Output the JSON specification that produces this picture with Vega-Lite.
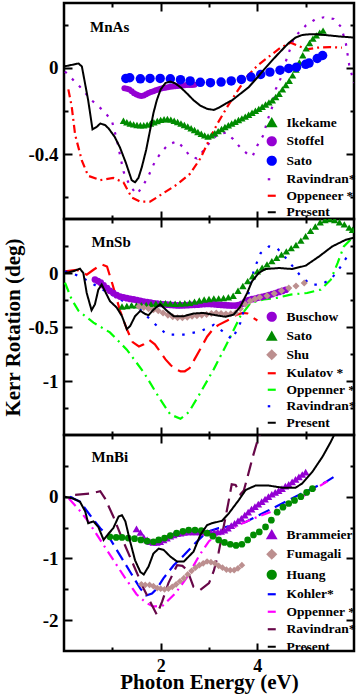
{
"$schema":"https://vega.github.io/schema/vega-lite/v6.json",
"autosize":{"type":"pad"},
"padding":{"left":0,"top":0,"right":2,"bottom":0},
"spacing":0,
"bounds":"flush",
"datasets":{
"MnAs":[
{"s":"Ikekame","x":1.23,"y":-0.245},{"s":"Ikekame","x":1.30,"y":-0.252},{"s":"Ikekame","x":1.37,"y":-0.258},{"s":"Ikekame","x":1.44,"y":-0.262},{"s":"Ikekame","x":1.51,"y":-0.265},{"s":"Ikekame","x":1.58,"y":-0.266},{"s":"Ikekame","x":1.65,"y":-0.266},{"s":"Ikekame","x":1.72,"y":-0.263},{"s":"Ikekame","x":1.79,"y":-0.258},{"s":"Ikekame","x":1.86,"y":-0.252},{"s":"Ikekame","x":1.93,"y":-0.246},{"s":"Ikekame","x":2.00,"y":-0.241},{"s":"Ikekame","x":2.07,"y":-0.238},{"s":"Ikekame","x":2.14,"y":-0.237},{"s":"Ikekame","x":2.21,"y":-0.24},{"s":"Ikekame","x":2.28,"y":-0.245},{"s":"Ikekame","x":2.35,"y":-0.251},{"s":"Ikekame","x":2.42,"y":-0.258},{"s":"Ikekame","x":2.49,"y":-0.265},{"s":"Ikekame","x":2.56,"y":-0.272},{"s":"Ikekame","x":2.63,"y":-0.28},{"s":"Ikekame","x":2.70,"y":-0.288},{"s":"Ikekame","x":2.77,"y":-0.297},{"s":"Ikekame","x":2.84,"y":-0.305},{"s":"Ikekame","x":2.91,"y":-0.313},{"s":"Ikekame","x":2.98,"y":-0.318},{"s":"Ikekame","x":3.05,"y":-0.313},{"s":"Ikekame","x":3.12,"y":-0.303},{"s":"Ikekame","x":3.19,"y":-0.293},{"s":"Ikekame","x":3.26,"y":-0.283},{"s":"Ikekame","x":3.33,"y":-0.274},{"s":"Ikekame","x":3.40,"y":-0.266},{"s":"Ikekame","x":3.47,"y":-0.258},{"s":"Ikekame","x":3.54,"y":-0.25},{"s":"Ikekame","x":3.61,"y":-0.242},{"s":"Ikekame","x":3.68,"y":-0.234},{"s":"Ikekame","x":3.75,"y":-0.226},{"s":"Ikekame","x":3.82,"y":-0.217},{"s":"Ikekame","x":3.89,"y":-0.208},{"s":"Ikekame","x":3.96,"y":-0.199},{"s":"Ikekame","x":4.03,"y":-0.19},{"s":"Ikekame","x":4.10,"y":-0.18},{"s":"Ikekame","x":4.17,"y":-0.17},{"s":"Ikekame","x":4.24,"y":-0.16},{"s":"Ikekame","x":4.31,"y":-0.15},{"s":"Ikekame","x":4.38,"y":-0.135},{"s":"Ikekame","x":4.45,"y":-0.12},{"s":"Ikekame","x":4.52,"y":-0.1},{"s":"Ikekame","x":4.59,"y":-0.08},{"s":"Ikekame","x":4.66,"y":-0.06},{"s":"Ikekame","x":4.73,"y":-0.035},{"s":"Ikekame","x":4.80,"y":-0.008},{"s":"Ikekame","x":4.87,"y":0.025},{"s":"Ikekame","x":4.94,"y":0.058},{"s":"Ikekame","x":5.01,"y":0.09},{"s":"Ikekame","x":5.08,"y":0.115},{"s":"Ikekame","x":5.15,"y":0.135},{"s":"Ikekame","x":5.22,"y":0.15},{"s":"Ikekame","x":5.29,"y":0.163},{"s":"Ikekame","x":5.36,"y":0.172},
{"s":"Stoffel","x":1.25,"y":-0.095},{"s":"Stoffel","x":1.30,"y":-0.097},{"s":"Stoffel","x":1.35,"y":-0.1},{"s":"Stoffel","x":1.40,"y":-0.108},{"s":"Stoffel","x":1.45,"y":-0.118},{"s":"Stoffel","x":1.50,"y":-0.124},{"s":"Stoffel","x":1.55,"y":-0.128},{"s":"Stoffel","x":1.60,"y":-0.13},{"s":"Stoffel","x":1.65,"y":-0.128},{"s":"Stoffel","x":1.70,"y":-0.123},{"s":"Stoffel","x":1.75,"y":-0.117},{"s":"Stoffel","x":1.80,"y":-0.112},{"s":"Stoffel","x":1.85,"y":-0.108},{"s":"Stoffel","x":1.90,"y":-0.104},{"s":"Stoffel","x":1.95,"y":-0.1},{"s":"Stoffel","x":2.00,"y":-0.097},{"s":"Stoffel","x":2.05,"y":-0.094},{"s":"Stoffel","x":2.10,"y":-0.092},{"s":"Stoffel","x":2.15,"y":-0.09},{"s":"Stoffel","x":2.20,"y":-0.088},{"s":"Stoffel","x":2.25,"y":-0.087},{"s":"Stoffel","x":2.30,"y":-0.085},{"s":"Stoffel","x":2.35,"y":-0.084},{"s":"Stoffel","x":2.40,"y":-0.083},{"s":"Stoffel","x":2.45,"y":-0.082},{"s":"Stoffel","x":2.50,"y":-0.081},{"s":"Stoffel","x":2.55,"y":-0.08},{"s":"Stoffel","x":2.60,"y":-0.08},{"s":"Stoffel","x":2.65,"y":-0.08},{"s":"Stoffel","x":2.70,"y":-0.079},
{"s":"Sato","x":1.28,"y":-0.049},{"s":"Sato","x":1.36,"y":-0.046},{"s":"Sato","x":1.58,"y":-0.051},{"s":"Sato","x":1.78,"y":-0.049},{"s":"Sato","x":1.99,"y":-0.049},{"s":"Sato","x":2.2,"y":-0.051},{"s":"Sato","x":2.41,"y":-0.055},{"s":"Sato","x":2.61,"y":-0.061},{"s":"Sato","x":2.82,"y":-0.067},{"s":"Sato","x":3.03,"y":-0.069},{"s":"Sato","x":3.25,"y":-0.066},{"s":"Sato","x":3.46,"y":-0.061},{"s":"Sato","x":3.67,"y":-0.054},{"s":"Sato","x":3.87,"y":-0.043},{"s":"Sato","x":4.07,"y":-0.031},{"s":"Sato","x":4.26,"y":-0.02},{"s":"Sato","x":4.47,"y":-0.011},{"s":"Sato","x":4.65,"y":-0.003},{"s":"Sato","x":4.81,"y":0.003},{"s":"Sato","x":5.0,"y":0.016},{"s":"Sato","x":5.07,"y":0.022},{"s":"Sato","x":5.24,"y":0.043},{"s":"Sato","x":5.35,"y":0.057},
{"s":"Ravindran*","x":0.02,"y":-0.017},{"s":"Ravindran*","x":0.33,"y":-0.088},{"s":"Ravindran*","x":0.57,"y":-0.15},{"s":"Ravindran*","x":0.82,"y":-0.2},{"s":"Ravindran*","x":0.99,"y":-0.245},{"s":"Ravindran*","x":1.09,"y":-0.33},{"s":"Ravindran*","x":1.23,"y":-0.48},{"s":"Ravindran*","x":1.37,"y":-0.55},{"s":"Ravindran*","x":1.51,"y":-0.585},{"s":"Ravindran*","x":1.65,"y":-0.54},{"s":"Ravindran*","x":1.75,"y":-0.5},{"s":"Ravindran*","x":1.89,"y":-0.43},{"s":"Ravindran*","x":2.03,"y":-0.386},{"s":"Ravindran*","x":2.16,"y":-0.355},{"s":"Ravindran*","x":2.34,"y":-0.34},{"s":"Ravindran*","x":2.47,"y":-0.37},{"s":"Ravindran*","x":2.61,"y":-0.41},{"s":"Ravindran*","x":2.75,"y":-0.42},{"s":"Ravindran*","x":2.9,"y":-0.38},{"s":"Ravindran*","x":3.03,"y":-0.34},{"s":"Ravindran*","x":3.17,"y":-0.31},{"s":"Ravindran*","x":3.35,"y":-0.3},{"s":"Ravindran*","x":3.5,"y":-0.33},{"s":"Ravindran*","x":3.65,"y":-0.37},{"s":"Ravindran*","x":3.8,"y":-0.4},{"s":"Ravindran*","x":3.9,"y":-0.41},{"s":"Ravindran*","x":4.0,"y":-0.36},{"s":"Ravindran*","x":4.13,"y":-0.31},{"s":"Ravindran*","x":4.2,"y":-0.25},{"s":"Ravindran*","x":4.31,"y":-0.18},{"s":"Ravindran*","x":4.38,"y":-0.1},{"s":"Ravindran*","x":4.48,"y":-0.05},{"s":"Ravindran*","x":4.59,"y":0.03},{"s":"Ravindran*","x":4.76,"y":0.14},{"s":"Ravindran*","x":5.0,"y":0.195},{"s":"Ravindran*","x":5.21,"y":0.226},{"s":"Ravindran*","x":5.38,"y":0.234},{"s":"Ravindran*","x":5.58,"y":0.226},{"s":"Ravindran*","x":5.73,"y":0.19},{"s":"Ravindran*","x":5.83,"y":0.116},{"s":"Ravindran*","x":5.9,"y":0.014},{"s":"Ravindran*","x":6.0,"y":-0.07},
{"s":"Oppeneer *","x":0.09,"y":-0.1},{"s":"Oppeneer *","x":0.16,"y":-0.18},{"s":"Oppeneer *","x":0.23,"y":-0.31},{"s":"Oppeneer *","x":0.37,"y":-0.43},{"s":"Oppeneer *","x":0.5,"y":-0.5},{"s":"Oppeneer *","x":0.75,"y":-0.52},{"s":"Oppeneer *","x":1.02,"y":-0.51},{"s":"Oppeneer *","x":1.23,"y":-0.53},{"s":"Oppeneer *","x":1.4,"y":-0.6},{"s":"Oppeneer *","x":1.58,"y":-0.62},{"s":"Oppeneer *","x":1.78,"y":-0.62},{"s":"Oppeneer *","x":2.06,"y":-0.58},{"s":"Oppeneer *","x":2.34,"y":-0.54},{"s":"Oppeneer *","x":2.61,"y":-0.49},{"s":"Oppeneer *","x":2.82,"y":-0.42},{"s":"Oppeneer *","x":2.99,"y":-0.34},{"s":"Oppeneer *","x":3.17,"y":-0.26},{"s":"Oppeneer *","x":3.38,"y":-0.18},{"s":"Oppeneer *","x":3.58,"y":-0.11},{"s":"Oppeneer *","x":3.79,"y":-0.04},{"s":"Oppeneer *","x":4.0,"y":0.01},{"s":"Oppeneer *","x":4.2,"y":0.045},{"s":"Oppeneer *","x":4.48,"y":0.093},{"s":"Oppeneer *","x":4.69,"y":0.116},{"s":"Oppeneer *","x":4.86,"y":0.1},{"s":"Oppeneer *","x":5.03,"y":0.085},{"s":"Oppeneer *","x":5.24,"y":0.093},{"s":"Oppeneer *","x":5.5,"y":0.096},{"s":"Oppeneer *","x":5.75,"y":0.093},
{"s":"Present","x":0.0,"y":0.006},{"s":"Present","x":0.3,"y":0.02},{"s":"Present","x":0.37,"y":0.006},{"s":"Present","x":0.5,"y":-0.15},{"s":"Present","x":0.59,"y":-0.285},{"s":"Present","x":0.67,"y":-0.275},{"s":"Present","x":0.75,"y":-0.258},{"s":"Present","x":0.85,"y":-0.265},{"s":"Present","x":0.92,"y":-0.28},{"s":"Present","x":1.05,"y":-0.32},{"s":"Present","x":1.16,"y":-0.37},{"s":"Present","x":1.28,"y":-0.44},{"s":"Present","x":1.4,"y":-0.52},{"s":"Present","x":1.47,"y":-0.53},{"s":"Present","x":1.54,"y":-0.51},{"s":"Present","x":1.61,"y":-0.46},{"s":"Present","x":1.7,"y":-0.38},{"s":"Present","x":1.78,"y":-0.29},{"s":"Present","x":1.85,"y":-0.21},{"s":"Present","x":1.92,"y":-0.15},{"s":"Present","x":2.0,"y":-0.1},{"s":"Present","x":2.1,"y":-0.07},{"s":"Present","x":2.2,"y":-0.064},{"s":"Present","x":2.3,"y":-0.072},{"s":"Present","x":2.41,"y":-0.09},{"s":"Present","x":2.55,"y":-0.12},{"s":"Present","x":2.68,"y":-0.15},{"s":"Present","x":2.82,"y":-0.175},{"s":"Present","x":2.96,"y":-0.19},{"s":"Present","x":3.1,"y":-0.195},{"s":"Present","x":3.2,"y":-0.185},{"s":"Present","x":3.35,"y":-0.165},{"s":"Present","x":3.48,"y":-0.15},{"s":"Present","x":3.65,"y":-0.12},{"s":"Present","x":3.82,"y":-0.09},{"s":"Present","x":4.0,"y":-0.045},{"s":"Present","x":4.17,"y":0.0},{"s":"Present","x":4.35,"y":0.045},{"s":"Present","x":4.52,"y":0.085},{"s":"Present","x":4.65,"y":0.115},{"s":"Present","x":4.79,"y":0.14},{"s":"Present","x":4.93,"y":0.152},{"s":"Present","x":5.07,"y":0.155},{"s":"Present","x":5.25,"y":0.155},{"s":"Present","x":5.48,"y":0.15},{"s":"Present","x":5.7,"y":0.145},{"s":"Present","x":6.0,"y":0.14}
],
"MnSb":[
{"s":"Buschow","x":0.64,"y":-0.06},{"s":"Buschow","x":0.70,"y":-0.075},{"s":"Buschow","x":0.76,"y":-0.09},{"s":"Buschow","x":0.82,"y":-0.115},{"s":"Buschow","x":0.89,"y":-0.14},{"s":"Buschow","x":0.95,"y":-0.165},{"s":"Buschow","x":1.02,"y":-0.185},{"s":"Buschow","x":1.09,"y":-0.205},{"s":"Buschow","x":1.16,"y":-0.218},{"s":"Buschow","x":1.23,"y":-0.225},{"s":"Buschow","x":1.30,"y":-0.233},{"s":"Buschow","x":1.37,"y":-0.24},{"s":"Buschow","x":1.44,"y":-0.245},{"s":"Buschow","x":1.51,"y":-0.252},{"s":"Buschow","x":1.58,"y":-0.258},{"s":"Buschow","x":1.65,"y":-0.264},{"s":"Buschow","x":1.72,"y":-0.27},{"s":"Buschow","x":1.79,"y":-0.275},{"s":"Buschow","x":1.86,"y":-0.28},{"s":"Buschow","x":1.93,"y":-0.284},{"s":"Buschow","x":2.00,"y":-0.287},{"s":"Buschow","x":2.07,"y":-0.29},{"s":"Buschow","x":2.14,"y":-0.293},{"s":"Buschow","x":2.21,"y":-0.296},{"s":"Buschow","x":2.28,"y":-0.298},{"s":"Buschow","x":2.35,"y":-0.3},{"s":"Buschow","x":2.42,"y":-0.3},{"s":"Buschow","x":2.49,"y":-0.299},{"s":"Buschow","x":2.56,"y":-0.298},{"s":"Buschow","x":2.63,"y":-0.296},{"s":"Buschow","x":2.70,"y":-0.295},{"s":"Buschow","x":2.77,"y":-0.293},{"s":"Buschow","x":2.84,"y":-0.29},{"s":"Buschow","x":2.91,"y":-0.288},{"s":"Buschow","x":2.98,"y":-0.287},{"s":"Buschow","x":3.05,"y":-0.288},{"s":"Buschow","x":3.12,"y":-0.29},{"s":"Buschow","x":3.19,"y":-0.293},{"s":"Buschow","x":3.26,"y":-0.296},{"s":"Buschow","x":3.33,"y":-0.298},{"s":"Buschow","x":3.40,"y":-0.3},{"s":"Buschow","x":3.47,"y":-0.302},{"s":"Buschow","x":3.54,"y":-0.302},{"s":"Buschow","x":3.61,"y":-0.298},{"s":"Buschow","x":3.68,"y":-0.285},{"s":"Buschow","x":3.75,"y":-0.265},{"s":"Buschow","x":3.82,"y":-0.25},{"s":"Buschow","x":3.89,"y":-0.242},{"s":"Buschow","x":3.96,"y":-0.236},{"s":"Buschow","x":4.03,"y":-0.228},{"s":"Buschow","x":4.10,"y":-0.22},{"s":"Buschow","x":4.17,"y":-0.213},{"s":"Buschow","x":4.24,"y":-0.205},{"s":"Buschow","x":4.31,"y":-0.195},{"s":"Buschow","x":4.38,"y":-0.185},{"s":"Buschow","x":4.45,"y":-0.175},{"s":"Buschow","x":4.52,"y":-0.166},{"s":"Buschow","x":4.59,"y":-0.155},
{"s":"Sato","x":1.2,"y":-0.31},{"s":"Sato","x":1.3,"y":-0.305},{"s":"Sato","x":1.4,"y":-0.3},{"s":"Sato","x":1.5,"y":-0.3},{"s":"Sato","x":1.6,"y":-0.298},{"s":"Sato","x":1.7,"y":-0.295},{"s":"Sato","x":1.8,"y":-0.29},{"s":"Sato","x":1.9,"y":-0.285},{"s":"Sato","x":2.0,"y":-0.28},{"s":"Sato","x":2.1,"y":-0.28},{"s":"Sato","x":2.2,"y":-0.282},{"s":"Sato","x":2.3,"y":-0.285},{"s":"Sato","x":2.4,"y":-0.283},{"s":"Sato","x":2.5,"y":-0.28},{"s":"Sato","x":2.6,"y":-0.275},{"s":"Sato","x":2.7,"y":-0.265},{"s":"Sato","x":2.8,"y":-0.255},{"s":"Sato","x":2.9,"y":-0.245},{"s":"Sato","x":3.0,"y":-0.24},{"s":"Sato","x":3.1,"y":-0.235},{"s":"Sato","x":3.2,"y":-0.235},{"s":"Sato","x":3.3,"y":-0.232},{"s":"Sato","x":3.4,"y":-0.225},{"s":"Sato","x":3.5,"y":-0.21},{"s":"Sato","x":3.6,"y":-0.165},{"s":"Sato","x":3.7,"y":-0.12},{"s":"Sato","x":3.8,"y":-0.075},{"s":"Sato","x":3.9,"y":-0.03},{"s":"Sato","x":4.0,"y":0.015},{"s":"Sato","x":4.1,"y":0.05},{"s":"Sato","x":4.2,"y":0.08},{"s":"Sato","x":4.3,"y":0.11},{"s":"Sato","x":4.4,"y":0.14},{"s":"Sato","x":4.5,"y":0.17},{"s":"Sato","x":4.6,"y":0.2},{"s":"Sato","x":4.7,"y":0.23},{"s":"Sato","x":4.8,"y":0.26},{"s":"Sato","x":4.9,"y":0.3},{"s":"Sato","x":5.0,"y":0.34},{"s":"Sato","x":5.1,"y":0.39},{"s":"Sato","x":5.2,"y":0.43},{"s":"Sato","x":5.3,"y":0.47},{"s":"Sato","x":5.4,"y":0.49},{"s":"Sato","x":5.5,"y":0.5},{"s":"Sato","x":5.6,"y":0.49},{"s":"Sato","x":5.7,"y":0.47},{"s":"Sato","x":5.8,"y":0.45},{"s":"Sato","x":5.9,"y":0.42},{"s":"Sato","x":5.97,"y":0.4},
{"s":"Shu","x":1.55,"y":-0.31},{"s":"Shu","x":1.65,"y":-0.32},{"s":"Shu","x":1.75,"y":-0.33},{"s":"Shu","x":1.85,"y":-0.34},{"s":"Shu","x":1.95,"y":-0.35},{"s":"Shu","x":2.05,"y":-0.37},{"s":"Shu","x":2.15,"y":-0.39},{"s":"Shu","x":2.25,"y":-0.405},{"s":"Shu","x":2.35,"y":-0.415},{"s":"Shu","x":2.45,"y":-0.415},{"s":"Shu","x":2.55,"y":-0.41},{"s":"Shu","x":2.65,"y":-0.4},{"s":"Shu","x":2.75,"y":-0.395},{"s":"Shu","x":2.85,"y":-0.39},{"s":"Shu","x":2.95,"y":-0.385},{"s":"Shu","x":3.05,"y":-0.375},{"s":"Shu","x":3.15,"y":-0.37},{"s":"Shu","x":3.25,"y":-0.375},{"s":"Shu","x":3.35,"y":-0.38},{"s":"Shu","x":3.45,"y":-0.378},{"s":"Shu","x":3.55,"y":-0.37},{"s":"Shu","x":3.65,"y":-0.33},{"s":"Shu","x":3.75,"y":-0.29},{"s":"Shu","x":3.85,"y":-0.26},{"s":"Shu","x":3.95,"y":-0.24},{"s":"Shu","x":4.05,"y":-0.225},{"s":"Shu","x":4.2,"y":-0.21},{"s":"Shu","x":4.35,"y":-0.19},{"s":"Shu","x":4.5,"y":-0.165},{"s":"Shu","x":4.65,"y":-0.14},{"s":"Shu","x":4.8,"y":-0.12},{"s":"Shu","x":4.97,"y":-0.092},
{"s":"Kulatov *","x":0.02,"y":0.016},{"s":"Kulatov *","x":0.26,"y":0.03},{"s":"Kulatov *","x":0.47,"y":-0.015},{"s":"Kulatov *","x":0.61,"y":0.03},{"s":"Kulatov *","x":0.78,"y":0.08},{"s":"Kulatov *","x":0.89,"y":0.06},{"s":"Kulatov *","x":1.0,"y":-0.1},{"s":"Kulatov *","x":1.16,"y":-0.35},{"s":"Kulatov *","x":1.3,"y":-0.52},{"s":"Kulatov *","x":1.42,"y":-0.64},{"s":"Kulatov *","x":1.55,"y":-0.68},{"s":"Kulatov *","x":1.65,"y":-0.66},{"s":"Kulatov *","x":1.76,"y":-0.62},{"s":"Kulatov *","x":1.88,"y":-0.66},{"s":"Kulatov *","x":1.99,"y":-0.73},{"s":"Kulatov *","x":2.1,"y":-0.8},{"s":"Kulatov *","x":2.2,"y":-0.85},{"s":"Kulatov *","x":2.3,"y":-0.89},{"s":"Kulatov *","x":2.41,"y":-0.91},{"s":"Kulatov *","x":2.5,"y":-0.91},{"s":"Kulatov *","x":2.6,"y":-0.88},{"s":"Kulatov *","x":2.7,"y":-0.8},{"s":"Kulatov *","x":2.8,"y":-0.72},{"s":"Kulatov *","x":2.96,"y":-0.59},{"s":"Kulatov *","x":3.1,"y":-0.51},{"s":"Kulatov *","x":3.2,"y":-0.48},{"s":"Kulatov *","x":3.38,"y":-0.44},{"s":"Kulatov *","x":3.58,"y":-0.385},{"s":"Kulatov *","x":3.7,"y":-0.37},{"s":"Kulatov *","x":3.8,"y":-0.375},{"s":"Kulatov *","x":3.9,"y":-0.41},{"s":"Kulatov *","x":4.0,"y":-0.44},
{"s":"Oppenner *","x":0.02,"y":-0.09},{"s":"Oppenner *","x":0.16,"y":-0.245},{"s":"Oppenner *","x":0.3,"y":-0.35},{"s":"Oppenner *","x":0.61,"y":-0.46},{"s":"Oppenner *","x":0.95,"y":-0.55},{"s":"Oppenner *","x":1.3,"y":-0.71},{"s":"Oppenner *","x":1.65,"y":-0.92},{"s":"Oppenner *","x":1.99,"y":-1.17},{"s":"Oppenner *","x":2.2,"y":-1.31},{"s":"Oppenner *","x":2.41,"y":-1.35},{"s":"Oppenner *","x":2.58,"y":-1.29},{"s":"Oppenner *","x":2.82,"y":-1.11},{"s":"Oppenner *","x":3.1,"y":-0.89},{"s":"Oppenner *","x":3.38,"y":-0.646},{"s":"Oppenner *","x":3.65,"y":-0.4},{"s":"Oppenner *","x":3.86,"y":-0.277},{"s":"Oppenner *","x":4.13,"y":-0.245},{"s":"Oppenner *","x":4.41,"y":-0.23},{"s":"Oppenner *","x":4.69,"y":-0.2},{"s":"Oppenner *","x":5.03,"y":-0.185},{"s":"Oppenner *","x":5.31,"y":-0.154},{"s":"Oppenner *","x":5.52,"y":-0.062},{"s":"Oppenner *","x":5.66,"y":0.092},{"s":"Oppenner *","x":5.79,"y":0.246},{"s":"Oppenner *","x":5.93,"y":0.308},
{"s":"Ravindran*","x":0.02,"y":0.016},{"s":"Ravindran*","x":0.33,"y":-0.03},{"s":"Ravindran*","x":0.75,"y":-0.14},{"s":"Ravindran*","x":1.16,"y":-0.245},{"s":"Ravindran*","x":1.58,"y":-0.34},{"s":"Ravindran*","x":1.85,"y":-0.46},{"s":"Ravindran*","x":2.13,"y":-0.57},{"s":"Ravindran*","x":2.48,"y":-0.57},{"s":"Ravindran*","x":2.82,"y":-0.54},{"s":"Ravindran*","x":3.1,"y":-0.48},{"s":"Ravindran*","x":3.31,"y":-0.55},{"s":"Ravindran*","x":3.48,"y":-0.615},{"s":"Ravindran*","x":3.65,"y":-0.46},{"s":"Ravindran*","x":3.82,"y":-0.185},{"s":"Ravindran*","x":3.93,"y":0.03},{"s":"Ravindran*","x":4.07,"y":0.185},{"s":"Ravindran*","x":4.24,"y":0.246},{"s":"Ravindran*","x":4.41,"y":0.23},{"s":"Ravindran*","x":4.62,"y":0.123},{"s":"Ravindran*","x":4.9,"y":-0.03},{"s":"Ravindran*","x":5.1,"y":-0.107},{"s":"Ravindran*","x":5.31,"y":-0.107},{"s":"Ravindran*","x":5.52,"y":-0.06},{"s":"Ravindran*","x":5.73,"y":0.062},{"s":"Ravindran*","x":5.86,"y":0.154},{"s":"Ravindran*","x":5.97,"y":0.18},
{"s":"Present","x":0.02,"y":0.0},{"s":"Present","x":0.19,"y":0.016},{"s":"Present","x":0.33,"y":0.04},{"s":"Present","x":0.4,"y":0.0},{"s":"Present","x":0.47,"y":-0.185},{"s":"Present","x":0.57,"y":-0.345},{"s":"Present","x":0.64,"y":-0.29},{"s":"Present","x":0.71,"y":-0.155},{"s":"Present","x":0.78,"y":-0.107},{"s":"Present","x":0.85,"y":-0.17},{"s":"Present","x":0.95,"y":-0.26},{"s":"Present","x":1.09,"y":-0.32},{"s":"Present","x":1.2,"y":-0.4},{"s":"Present","x":1.3,"y":-0.52},{"s":"Present","x":1.37,"y":-0.49},{"s":"Present","x":1.47,"y":-0.4},{"s":"Present","x":1.58,"y":-0.35},{"s":"Present","x":1.68,"y":-0.38},{"s":"Present","x":1.75,"y":-0.39},{"s":"Present","x":1.85,"y":-0.34},{"s":"Present","x":1.99,"y":-0.29},{"s":"Present","x":2.13,"y":-0.35},{"s":"Present","x":2.27,"y":-0.4},{"s":"Present","x":2.48,"y":-0.4},{"s":"Present","x":2.68,"y":-0.375},{"s":"Present","x":2.89,"y":-0.37},{"s":"Present","x":3.13,"y":-0.39},{"s":"Present","x":3.34,"y":-0.405},{"s":"Present","x":3.51,"y":-0.385},{"s":"Present","x":3.65,"y":-0.31},{"s":"Present","x":3.79,"y":-0.185},{"s":"Present","x":3.89,"y":-0.077},{"s":"Present","x":4.03,"y":0.0},{"s":"Present","x":4.17,"y":0.037},{"s":"Present","x":4.45,"y":0.046},{"s":"Present","x":4.72,"y":0.037},{"s":"Present","x":5.0,"y":0.068},{"s":"Present","x":5.28,"y":0.154},{"s":"Present","x":5.55,"y":0.246},{"s":"Present","x":5.83,"y":0.308},{"s":"Present","x":6.0,"y":0.327}
],
"MnBi":[
{"s":"Brammeier","x":1.5,"y":-0.52},{"s":"Brammeier","x":1.58,"y":-0.58},{"s":"Brammeier","x":1.65,"y":-0.66},{"s":"Brammeier","x":1.72,"y":-0.7},{"s":"Brammeier","x":1.78,"y":-0.73},{"s":"Brammeier","x":1.85,"y":-0.74},{"s":"Brammeier","x":1.92,"y":-0.74},{"s":"Brammeier","x":1.99,"y":-0.73},{"s":"Brammeier","x":2.06,"y":-0.7},{"s":"Brammeier","x":2.13,"y":-0.67},{"s":"Brammeier","x":2.2,"y":-0.64},{"s":"Brammeier","x":2.27,"y":-0.62},{"s":"Brammeier","x":2.34,"y":-0.6},{"s":"Brammeier","x":2.41,"y":-0.59},{"s":"Brammeier","x":2.48,"y":-0.58},{"s":"Brammeier","x":2.55,"y":-0.57},{"s":"Brammeier","x":2.62,"y":-0.57},{"s":"Brammeier","x":2.69,"y":-0.57},{"s":"Brammeier","x":2.76,"y":-0.57},{"s":"Brammeier","x":2.83,"y":-0.57},{"s":"Brammeier","x":2.9,"y":-0.575},{"s":"Brammeier","x":2.97,"y":-0.58},{"s":"Brammeier","x":3.04,"y":-0.58},{"s":"Brammeier","x":3.11,"y":-0.575},{"s":"Brammeier","x":3.18,"y":-0.57},{"s":"Brammeier","x":3.25,"y":-0.56},{"s":"Brammeier","x":3.32,"y":-0.54},{"s":"Brammeier","x":3.39,"y":-0.51},{"s":"Brammeier","x":3.46,"y":-0.47},{"s":"Brammeier","x":3.53,"y":-0.43},{"s":"Brammeier","x":3.6,"y":-0.39},{"s":"Brammeier","x":3.67,"y":-0.35},{"s":"Brammeier","x":3.74,"y":-0.3},{"s":"Brammeier","x":3.81,"y":-0.25},{"s":"Brammeier","x":3.88,"y":-0.2},{"s":"Brammeier","x":3.95,"y":-0.16},{"s":"Brammeier","x":4.02,"y":-0.12},{"s":"Brammeier","x":4.09,"y":-0.08},{"s":"Brammeier","x":4.16,"y":-0.04},{"s":"Brammeier","x":4.23,"y":0.0},{"s":"Brammeier","x":4.3,"y":0.04},{"s":"Brammeier","x":4.37,"y":0.07},{"s":"Brammeier","x":4.44,"y":0.1},{"s":"Brammeier","x":4.51,"y":0.13},{"s":"Brammeier","x":4.58,"y":0.17},{"s":"Brammeier","x":4.65,"y":0.2},{"s":"Brammeier","x":4.72,"y":0.24},{"s":"Brammeier","x":4.79,"y":0.28},{"s":"Brammeier","x":4.86,"y":0.32},{"s":"Brammeier","x":4.93,"y":0.36},{"s":"Brammeier","x":5.0,"y":0.4},
{"s":"Fumagali","x":1.6,"y":-1.42},{"s":"Fumagali","x":1.68,"y":-1.43},{"s":"Fumagali","x":1.77,"y":-1.43},{"s":"Fumagali","x":1.85,"y":-1.45},{"s":"Fumagali","x":1.93,"y":-1.48},{"s":"Fumagali","x":2.0,"y":-1.49},{"s":"Fumagali","x":2.08,"y":-1.5},{"s":"Fumagali","x":2.16,"y":-1.49},{"s":"Fumagali","x":2.24,"y":-1.46},{"s":"Fumagali","x":2.32,"y":-1.42},{"s":"Fumagali","x":2.4,"y":-1.37},{"s":"Fumagali","x":2.48,"y":-1.32},{"s":"Fumagali","x":2.56,"y":-1.26},{"s":"Fumagali","x":2.64,"y":-1.2},{"s":"Fumagali","x":2.72,"y":-1.15},{"s":"Fumagali","x":2.8,"y":-1.11},{"s":"Fumagali","x":2.88,"y":-1.08},{"s":"Fumagali","x":2.96,"y":-1.05},{"s":"Fumagali","x":3.04,"y":-1.06},{"s":"Fumagali","x":3.12,"y":-1.08},{"s":"Fumagali","x":3.2,"y":-1.12},{"s":"Fumagali","x":3.28,"y":-1.15},{"s":"Fumagali","x":3.36,"y":-1.18},{"s":"Fumagali","x":3.44,"y":-1.19},{"s":"Fumagali","x":3.52,"y":-1.19},{"s":"Fumagali","x":3.6,"y":-1.16},{"s":"Fumagali","x":3.68,"y":-1.11},
{"s":"Huang","x":0.95,"y":-0.65},{"s":"Huang","x":1.08,"y":-0.66},{"s":"Huang","x":1.2,"y":-0.66},{"s":"Huang","x":1.33,"y":-0.67},{"s":"Huang","x":1.46,"y":-0.68},{"s":"Huang","x":1.59,"y":-0.7},{"s":"Huang","x":1.72,"y":-0.72},{"s":"Huang","x":1.85,"y":-0.73},{"s":"Huang","x":1.96,"y":-0.7},{"s":"Huang","x":2.08,"y":-0.67},{"s":"Huang","x":2.2,"y":-0.63},{"s":"Huang","x":2.33,"y":-0.59},{"s":"Huang","x":2.46,"y":-0.56},{"s":"Huang","x":2.58,"y":-0.54},{"s":"Huang","x":2.71,"y":-0.54},{"s":"Huang","x":2.84,"y":-0.55},{"s":"Huang","x":2.96,"y":-0.59},{"s":"Huang","x":3.08,"y":-0.64},{"s":"Huang","x":3.2,"y":-0.7},{"s":"Huang","x":3.32,"y":-0.74},{"s":"Huang","x":3.44,"y":-0.77},{"s":"Huang","x":3.56,"y":-0.79},{"s":"Huang","x":3.68,"y":-0.77},{"s":"Huang","x":3.8,"y":-0.7},{"s":"Huang","x":3.92,"y":-0.62},{"s":"Huang","x":4.04,"y":-0.57},{"s":"Huang","x":4.17,"y":-0.49},{"s":"Huang","x":4.29,"y":-0.38},{"s":"Huang","x":4.41,"y":-0.25},{"s":"Huang","x":4.53,"y":-0.17},{"s":"Huang","x":4.65,"y":-0.11},{"s":"Huang","x":4.77,"y":-0.06},{"s":"Huang","x":4.9,"y":0.0},{"s":"Huang","x":5.02,"y":0.07},{"s":"Huang","x":5.14,"y":0.13},
{"s":"Kohler*","x":0.12,"y":0.0},{"s":"Kohler*","x":0.33,"y":-0.08},{"s":"Kohler*","x":0.54,"y":-0.3},{"s":"Kohler*","x":0.75,"y":-0.51},{"s":"Kohler*","x":0.95,"y":-0.68},{"s":"Kohler*","x":1.16,"y":-0.95},{"s":"Kohler*","x":1.37,"y":-1.22},{"s":"Kohler*","x":1.58,"y":-1.49},{"s":"Kohler*","x":1.7,"y":-1.6},{"s":"Kohler*","x":1.82,"y":-1.57},{"s":"Kohler*","x":1.92,"y":-1.49},{"s":"Kohler*","x":2.06,"y":-1.32},{"s":"Kohler*","x":2.27,"y":-1.11},{"s":"Kohler*","x":2.48,"y":-0.95},{"s":"Kohler*","x":2.68,"y":-0.78},{"s":"Kohler*","x":2.89,"y":-0.62},{"s":"Kohler*","x":3.0,"y":-0.56},{"s":"Kohler*","x":3.2,"y":-0.51},{"s":"Kohler*","x":3.48,"y":-0.47},{"s":"Kohler*","x":3.76,"y":-0.41},{"s":"Kohler*","x":4.03,"y":-0.3},{"s":"Kohler*","x":4.31,"y":-0.19},{"s":"Kohler*","x":4.59,"y":-0.08},{"s":"Kohler*","x":4.86,"y":0.03},{"s":"Kohler*","x":5.14,"y":0.135},{"s":"Kohler*","x":5.42,"y":0.24},{"s":"Kohler*","x":5.66,"y":0.36},
{"s":"Oppenner *","x":0.1,"y":-0.03},{"s":"Oppenner *","x":0.3,"y":-0.2},{"s":"Oppenner *","x":0.5,"y":-0.4},{"s":"Oppenner *","x":0.75,"y":-0.7},{"s":"Oppenner *","x":1.0,"y":-1.0},{"s":"Oppenner *","x":1.25,"y":-1.3},{"s":"Oppenner *","x":1.5,"y":-1.58},{"s":"Oppenner *","x":1.7,"y":-1.72},{"s":"Oppenner *","x":1.85,"y":-1.78},{"s":"Oppenner *","x":2.05,"y":-1.76},{"s":"Oppenner *","x":2.3,"y":-1.57},{"s":"Oppenner *","x":2.55,"y":-1.3},{"s":"Oppenner *","x":2.8,"y":-0.95},{"s":"Oppenner *","x":3.0,"y":-0.72},{"s":"Oppenner *","x":3.2,"y":-0.6},{"s":"Oppenner *","x":3.5,"y":-0.5},{"s":"Oppenner *","x":3.9,"y":-0.36},{"s":"Oppenner *","x":4.3,"y":-0.24},{"s":"Oppenner *","x":4.7,"y":-0.1},{"s":"Oppenner *","x":5.1,"y":0.08},{"s":"Oppenner *","x":5.45,"y":0.25},
{"s":"Ravindran*","x":0.23,"y":0.03},{"s":"Ravindran*","x":0.54,"y":0.05},{"s":"Ravindran*","x":0.75,"y":0.09},{"s":"Ravindran*","x":0.85,"y":-0.03},{"s":"Ravindran*","x":1.02,"y":-0.32},{"s":"Ravindran*","x":1.23,"y":-0.73},{"s":"Ravindran*","x":1.44,"y":-1.11},{"s":"Ravindran*","x":1.65,"y":-1.49},{"s":"Ravindran*","x":1.82,"y":-1.76},{"s":"Ravindran*","x":1.92,"y":-1.91},{"s":"Ravindran*","x":2.03,"y":-1.7},{"s":"Ravindran*","x":2.16,"y":-1.4},{"s":"Ravindran*","x":2.34,"y":-1.11},{"s":"Ravindran*","x":2.45,"y":-1.12},{"s":"Ravindran*","x":2.55,"y":-1.19},{"s":"Ravindran*","x":2.68,"y":-1.46},{"s":"Ravindran*","x":2.82,"y":-1.51},{"s":"Ravindran*","x":3.0,"y":-1.4},{"s":"Ravindran*","x":3.1,"y":-1.2},{"s":"Ravindran*","x":3.2,"y":-0.9},{"s":"Ravindran*","x":3.3,"y":-0.5},{"s":"Ravindran*","x":3.4,"y":-0.1},{"s":"Ravindran*","x":3.47,"y":0.2},{"s":"Ravindran*","x":3.55,"y":0.19},{"s":"Ravindran*","x":3.65,"y":0.04},{"s":"Ravindran*","x":3.72,"y":0.1},{"s":"Ravindran*","x":3.8,"y":0.33},{"s":"Ravindran*","x":3.9,"y":0.63},{"s":"Ravindran*","x":4.0,"y":0.9},{"s":"Ravindran*","x":4.1,"y":1.12},
{"s":"Present","x":0.02,"y":0.0},{"s":"Present","x":0.19,"y":-0.03},{"s":"Present","x":0.33,"y":-0.08},{"s":"Present","x":0.44,"y":-0.24},{"s":"Present","x":0.5,"y":-0.43},{"s":"Present","x":0.61,"y":-0.4},{"s":"Present","x":0.71,"y":-0.49},{"s":"Present","x":0.82,"y":-0.7},{"s":"Present","x":0.92,"y":-0.6},{"s":"Present","x":1.02,"y":-0.51},{"s":"Present","x":1.13,"y":-0.32},{"s":"Present","x":1.2,"y":-0.3},{"s":"Present","x":1.27,"y":-0.4},{"s":"Present","x":1.37,"y":-0.73},{"s":"Present","x":1.47,"y":-1.03},{"s":"Present","x":1.58,"y":-1.22},{"s":"Present","x":1.65,"y":-1.26},{"s":"Present","x":1.75,"y":-1.13},{"s":"Present","x":1.85,"y":-0.92},{"s":"Present","x":1.96,"y":-0.84},{"s":"Present","x":2.06,"y":-0.86},{"s":"Present","x":2.2,"y":-0.97},{"s":"Present","x":2.34,"y":-1.05},{"s":"Present","x":2.48,"y":-1.05},{"s":"Present","x":2.68,"y":-0.89},{"s":"Present","x":2.82,"y":-0.62},{"s":"Present","x":2.96,"y":-0.46},{"s":"Present","x":3.06,"y":-0.43},{"s":"Present","x":3.27,"y":-0.39},{"s":"Present","x":3.41,"y":-0.27},{"s":"Present","x":3.62,"y":-0.05},{"s":"Present","x":3.76,"y":0.11},{"s":"Present","x":3.96,"y":0.18},{"s":"Present","x":4.24,"y":0.18},{"s":"Present","x":4.52,"y":0.146},{"s":"Present","x":4.79,"y":0.146},{"s":"Present","x":4.93,"y":0.216},{"s":"Present","x":5.14,"y":0.405},{"s":"Present","x":5.35,"y":0.65},{"s":"Present","x":5.52,"y":0.89},{"s":"Present","x":5.62,"y":1.05},{"s":"Present","x":5.72,"y":1.2}
]
},
"vconcat":[
{
"width":290,"height":216,
"data":{"name":"MnAs"},
"encoding":{"color":{"field":"s","type":"nominal",
 "scale":{"domain":["Ikekame","Stoffel","Sato","Ravindran*","Oppeneer *","Present"],"range":["#008B00","#9400D3","#0000FF","#9400D3","#FF0000","#000000"]},
 "legend":{"title":null,"orient":"none","legendX":201,"legendY":113,"rowPadding":1.5}}},
"layer":[
{"transform":[{"filter":"datum.s==='Ravindran*'||datum.s==='Oppeneer *'"}],"mark":{"type":"line","strokeWidth":2.2,"clip":true},
 "encoding":{"x":{"field":"x","type":"quantitative","scale":{"domain":[0,6],"nice":false,"zero":false},
   "axis":{"orient":"bottom","values":[1,2,3,4,5],"labels":false,"title":null,"tickSize":{"condition":{"test":"datum.value===2||datum.value===4","value":-8},"value":-4}}},
  "y":{"field":"y","type":"quantitative","scale":{"domain":[-0.7,0.3],"nice":false,"zero":false},
   "axis":{"orient":"left","values":[0.2,0,-0.2,-0.4,-0.6],"title":null,"labelPadding":14,
    "labelExpr":"abs(datum.value*2.5-round(datum.value*2.5))<1e-6 ? (datum.value===0 ? '0' : '-'+toString(-datum.value)) : ''",
    "tickSize":{"condition":{"test":"abs(datum.value*2.5-round(datum.value*2.5))<1e-6","value":-8},"value":-4}}},
  "strokeDash":{"field":"s","type":"nominal","scale":{"domain":["Ikekame","Stoffel","Sato","Ravindran*","Oppeneer *","Present"],"range":[[1,0],[1,0],[1,0],[2.5,7.5],[8,4,2,4],[1,0]]},"legend":{"title":null}}}},
{"transform":[{"filter":"datum.s==='Ikekame'"}],"mark":{"type":"point","filled":true,"size":55,"opacity":1,"clip":true},
 "encoding":{"x":{"field":"x","type":"quantitative","axis":null},"y":{"field":"y","type":"quantitative","axis":null},
  "shape":{"field":"s","type":"nominal","scale":{"domain":["Ikekame","Stoffel","Sato","Ravindran*","Oppeneer *","Present"],"range":["triangle-up","circle","circle","stroke","stroke","stroke"]},"legend":{"title":null}}}},
{"transform":[{"filter":"datum.s==='Stoffel'"}],"mark":{"type":"point","filled":true,"size":36,"opacity":1,"clip":true},
 "encoding":{"x":{"field":"x","type":"quantitative","axis":null},"y":{"field":"y","type":"quantitative","axis":null},
  "shape":{"field":"s","type":"nominal","legend":{"title":null}}}},
{"transform":[{"filter":"datum.s==='Sato'"}],"mark":{"type":"point","filled":true,"size":90,"opacity":1,"clip":true},
 "encoding":{"x":{"field":"x","type":"quantitative","axis":null},"y":{"field":"y","type":"quantitative","axis":null},
  "shape":{"field":"s","type":"nominal","legend":{"title":null}}}},
{"transform":[{"filter":"datum.s==='Present'"}],"mark":{"type":"line","strokeWidth":2,"clip":true},
 "encoding":{"x":{"field":"x","type":"quantitative",
   "axis":{"orient":"top","values":[1,2,3,4,5],"labels":false,"title":null,"tickSize":{"condition":{"test":"datum.value===2||datum.value===4","value":-8},"value":-4}}},
  "y":{"field":"y","type":"quantitative",
   "axis":{"orient":"right","values":[0.2,0,-0.2,-0.4,-0.6],"labels":false,"title":null,
    "tickSize":{"condition":{"test":"abs(datum.value*2.5-round(datum.value*2.5))<1e-6","value":-8},"value":-4}}},
  "strokeDash":{"field":"s","type":"nominal","legend":{"title":null}}}},
{"data":{"values":[{"t":"MnAs"}]},"mark":{"type":"text","align":"left","baseline":"alphabetic","font":"Liberation Serif","fontWeight":"bold","fontSize":15},
 "encoding":{"x":{"datum":0.54,"type":"quantitative","axis":null},"y":{"datum":0.168,"type":"quantitative","axis":null},"text":{"field":"t"},"color":{"value":"#000000"}}}
],
"resolve":{"axis":{"x":"independent","y":"independent"}}
},
{
"width":290,"height":216,
"data":{"name":"MnSb"},
"encoding":{"color":{"field":"s","type":"nominal",
 "scale":{"domain":["Buschow","Sato","Shu","Kulatov *","Oppenner *","Ravindran*","Present"],"range":["#9400D3","#008B00","#BC8F8F","#FF0000","#00FF00","#0000FF","#000000"]},
 "legend":{"title":null,"orient":"none","legendX":201,"legendY":91,"rowPadding":1.5}}},
"layer":[
{"transform":[{"filter":"datum.s==='Kulatov *'||datum.s==='Oppenner *'||datum.s==='Ravindran*'"}],"mark":{"type":"line","strokeWidth":2.2,"clip":true},
 "encoding":{"x":{"field":"x","type":"quantitative","scale":{"domain":[0,6],"nice":false,"zero":false},
   "axis":{"orient":"bottom","values":[1,2,3,4,5],"labels":false,"title":null,"tickSize":{"condition":{"test":"datum.value===2||datum.value===4","value":-8},"value":-4}}},
  "y":{"field":"y","type":"quantitative","scale":{"domain":[-1.5,0.5],"nice":false,"zero":false},
   "axis":{"orient":"left","values":[0.25,0,-0.25,-0.5,-0.75,-1,-1.25],"labelPadding":14,
    "title":"Kerr Rotation (deg)","titleX":-45,"titleY":108,"titleBaseline":"alphabetic",
    "labelExpr":"abs(datum.value*2-round(datum.value*2))<1e-6 ? (datum.value===0 ? '0' : '-'+toString(-datum.value)) : ''",
    "tickSize":{"condition":{"test":"abs(datum.value*2-round(datum.value*2))<1e-6","value":-8},"value":-4}}},
  "strokeDash":{"field":"s","type":"nominal","scale":{"domain":["Buschow","Sato","Shu","Kulatov *","Oppenner *","Ravindran*","Present"],"range":[[1,0],[1,0],[1,0],[14,7],[10,5,2,5],[2.5,8],[1,0]]},"legend":{"title":null}}}},
{"transform":[{"filter":"datum.s==='Buschow'"}],"mark":{"type":"point","filled":true,"size":45,"opacity":1,"clip":true},
 "encoding":{"x":{"field":"x","type":"quantitative","axis":null},"y":{"field":"y","type":"quantitative","axis":null},
  "shape":{"field":"s","type":"nominal","scale":{"domain":["Buschow","Sato","Shu","Kulatov *","Oppenner *","Ravindran*","Present"],"range":["circle","triangle-up","diamond","stroke","stroke","stroke","stroke"]},"legend":{"title":null}}}},
{"transform":[{"filter":"datum.s==='Sato'"}],"mark":{"type":"point","filled":true,"size":55,"opacity":1,"clip":true},
 "encoding":{"x":{"field":"x","type":"quantitative","axis":null},"y":{"field":"y","type":"quantitative","axis":null},
  "shape":{"field":"s","type":"nominal","legend":{"title":null}}}},
{"transform":[{"filter":"datum.s==='Shu'"}],"mark":{"type":"point","filled":true,"size":50,"opacity":1,"clip":true},
 "encoding":{"x":{"field":"x","type":"quantitative","axis":null},"y":{"field":"y","type":"quantitative","axis":null},
  "shape":{"field":"s","type":"nominal","legend":{"title":null}}}},
{"transform":[{"filter":"datum.s==='Present'"}],"mark":{"type":"line","strokeWidth":2,"clip":true},
 "encoding":{"x":{"field":"x","type":"quantitative",
   "axis":{"orient":"top","values":[1,2,3,4,5],"labels":false,"title":null,"tickSize":{"condition":{"test":"datum.value===2||datum.value===4","value":-8},"value":-4}}},
  "y":{"field":"y","type":"quantitative",
   "axis":{"orient":"right","values":[0.25,0,-0.25,-0.5,-0.75,-1,-1.25],"labels":false,"title":null,
    "tickSize":{"condition":{"test":"abs(datum.value*2-round(datum.value*2))<1e-6","value":-8},"value":-4}}},
  "strokeDash":{"field":"s","type":"nominal","legend":{"title":null}}}},
{"data":{"values":[{"t":"MnSb"}]},"mark":{"type":"text","align":"left","baseline":"alphabetic","font":"Liberation Serif","fontWeight":"bold","fontSize":15},
 "encoding":{"x":{"datum":0.57,"type":"quantitative","axis":null},"y":{"datum":0.24,"type":"quantitative","axis":null},"text":{"field":"t"},"color":{"value":"#000000"}}}
],
"resolve":{"axis":{"x":"independent","y":"independent"}}
},
{
"width":290,"height":216,
"data":{"name":"MnBi"},
"encoding":{"color":{"field":"s","type":"nominal",
 "scale":{"domain":["Brammeier","Fumagali","Huang","Kohler*","Oppenner *","Ravindran*","Present"],"range":["#9400D3","#BC8F8F","#008B00","#0000FF","#FF00FF","#670748","#000000"]},
 "legend":{"title":null,"orient":"none","legendX":201,"legendY":93,"rowPadding":2.5}}},
"layer":[
{"transform":[{"filter":"datum.s==='Kohler*'||datum.s==='Oppenner *'||datum.s==='Ravindran*'"}],"mark":{"type":"line","strokeWidth":2.2,"clip":true},
 "encoding":{"x":{"field":"x","type":"quantitative","scale":{"domain":[0,6],"nice":false,"zero":false},
   "axis":{"orient":"bottom","values":[1,2,3,4,5],"labelPadding":14,"labelFontSize":18,"title":"Photon Energy (eV)","titleY":37,"titleBaseline":"alphabetic",
    "labelExpr":"datum.value===2||datum.value===4 ? datum.label : ''",
    "tickSize":{"condition":{"test":"datum.value===2||datum.value===4","value":-8},"value":-4}}},
  "y":{"field":"y","type":"quantitative","scale":{"domain":[-2.5,1],"nice":false,"zero":false},
   "axis":{"orient":"left","values":[0.5,0,-0.5,-1,-1.5,-2],"title":null,"labelPadding":14,
    "labelExpr":"abs(datum.value-round(datum.value))<1e-6 ? (datum.value===0 ? '0' : '-'+toString(-datum.value)) : ''",
    "tickSize":{"condition":{"test":"abs(datum.value-round(datum.value))<1e-6","value":-8},"value":-4}}},
  "strokeDash":{"field":"s","type":"nominal","scale":{"domain":["Brammeier","Fumagali","Huang","Kohler*","Oppenner *","Ravindran*","Present"],"range":[[1,0],[1,0],[1,0],[12,6],[10,5,2,5],[14,7],[1,0]]},"legend":{"title":null}}}},
{"transform":[{"filter":"datum.s==='Brammeier'"}],"mark":{"type":"point","filled":true,"size":60,"opacity":1,"clip":true},
 "encoding":{"x":{"field":"x","type":"quantitative","axis":null},"y":{"field":"y","type":"quantitative","axis":null},
  "shape":{"field":"s","type":"nominal","scale":{"domain":["Brammeier","Fumagali","Huang","Kohler*","Oppenner *","Ravindran*","Present"],"range":["triangle-up","diamond","circle","stroke","stroke","stroke","stroke"]},"legend":{"title":null}}}},
{"transform":[{"filter":"datum.s==='Fumagali'"}],"mark":{"type":"point","filled":true,"size":45,"opacity":1,"clip":true},
 "encoding":{"x":{"field":"x","type":"quantitative","axis":null},"y":{"field":"y","type":"quantitative","axis":null},
  "shape":{"field":"s","type":"nominal","legend":{"title":null}}}},
{"transform":[{"filter":"datum.s==='Huang'"}],"mark":{"type":"point","filled":true,"size":45,"opacity":1,"clip":true},
 "encoding":{"x":{"field":"x","type":"quantitative","axis":null},"y":{"field":"y","type":"quantitative","axis":null},
  "shape":{"field":"s","type":"nominal","legend":{"title":null}}}},
{"transform":[{"filter":"datum.s==='Present'"}],"mark":{"type":"line","strokeWidth":2,"clip":true},
 "encoding":{"x":{"field":"x","type":"quantitative",
   "axis":{"orient":"top","values":[1,2,3,4,5],"labels":false,"title":null,"tickSize":{"condition":{"test":"datum.value===2||datum.value===4","value":-8},"value":-4}}},
  "y":{"field":"y","type":"quantitative",
   "axis":{"orient":"right","values":[0.5,0,-0.5,-1,-1.5,-2],"labels":false,"title":null,
    "tickSize":{"condition":{"test":"abs(datum.value-round(datum.value))<1e-6","value":-8},"value":-4}}},
  "strokeDash":{"field":"s","type":"nominal","legend":{"title":null}}}},
{"data":{"values":[{"t":"MnBi"}]},"mark":{"type":"text","align":"left","baseline":"alphabetic","font":"Liberation Serif","fontWeight":"bold","fontSize":15},
 "encoding":{"x":{"datum":0.57,"type":"quantitative","axis":null},"y":{"datum":0.56,"type":"quantitative","axis":null},"text":{"field":"t"},"color":{"value":"#000000"}}}
],
"resolve":{"axis":{"x":"independent","y":"independent"}}
}
],
"resolve":{"scale":{"color":"independent","shape":"independent","strokeDash":"independent","x":"independent","y":"independent"},"legend":{"color":"independent","shape":"independent","strokeDash":"independent"}},
"config":{
 "view":{"stroke":"#000000","strokeWidth":2.5},
 "axis":{"domain":false,"grid":false,"tickColor":"#000000","tickWidth":2,"labelFont":"Liberation Serif","labelFontWeight":"bold","labelFontSize":19,"labelColor":"#000000","titleFont":"Liberation Serif","titleFontWeight":"bold","titleFontSize":21,"titleColor":"#000000"},
 "legend":{"labelFont":"Liberation Serif","labelFontWeight":"bold","labelFontSize":13.5,"labelColor":"#000000","padding":0,"symbolSize":64,"labelOffset":8,"symbolStrokeWidth":2.2,"symbolOpacity":1}
}
}
